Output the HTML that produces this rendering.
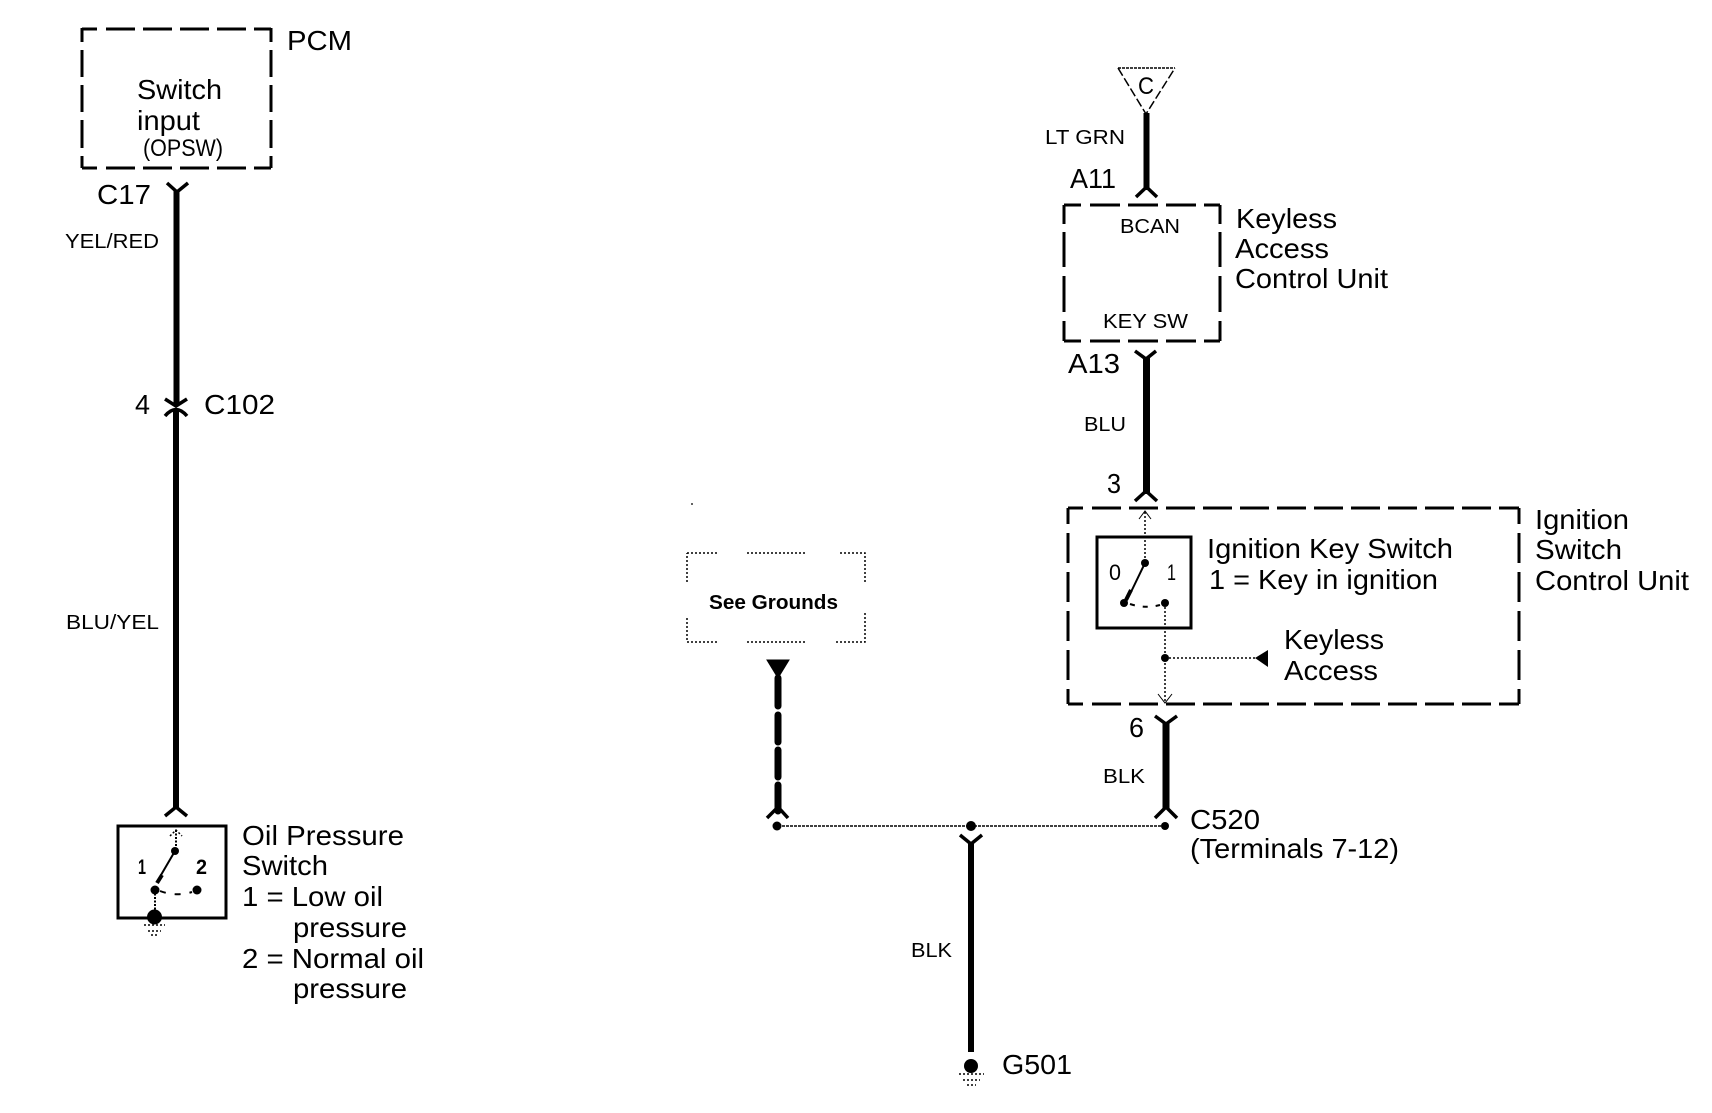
<!DOCTYPE html>
<html><head><meta charset="utf-8"><style>
html,body{margin:0;padding:0;background:#fff}
svg{display:block}
text{font-family:"Liberation Sans",sans-serif;fill:#000}
.l{font-size:28px}.m{font-size:24px}.s{font-size:20px}
.w{stroke:#000;stroke-width:6;fill:none}
.f{stroke:#000;stroke-width:3.500;fill:none}
.d{stroke:#000;stroke-width:3;fill:none}
.t{stroke:#000;stroke-width:2;stroke-dasharray:2 1.5;fill:none}
.q{stroke:#000;stroke-width:1.500;stroke-dasharray:2 2;fill:none}
</style></head><body>
<svg width="1712" height="1113" viewBox="0 0 1712 1113" xmlns="http://www.w3.org/2000/svg">
<rect width="1712" height="1113" fill="#fff"/>

<!-- PCM box -->
<path class="d" stroke-dasharray="15 9 29 8 29 8 29 8 29 8 17 0" d="M82 29H271"/>
<path class="d" stroke-dasharray="15 9 29 8 29 8 29 8 29 8 17 0" d="M82 168H271"/>
<path class="d" stroke-dasharray="14 8 27 8 27 8 28 8 14 0" d="M82 28V168"/>
<path class="d" stroke-dasharray="14 8 27 8 27 8 28 8 14 0" d="M271 28V168"/>
<text class="l" x="287" y="50" textLength="65" lengthAdjust="spacingAndGlyphs">PCM</text>
<text class="l" x="137" y="99" textLength="85" lengthAdjust="spacingAndGlyphs">Switch</text>
<text class="l" x="137" y="130" textLength="63" lengthAdjust="spacingAndGlyphs">input</text>
<text class="m" x="143" y="156" textLength="80" lengthAdjust="spacingAndGlyphs">(OPSW)</text>

<!-- Left wire -->
<path class="f" d="M167 183L177 192L188 183"/>
<path class="w" d="M176.500 190V405"/>
<text class="l" x="97" y="204" textLength="54" lengthAdjust="spacingAndGlyphs">C17</text>
<text class="s" x="65" y="248" textLength="94" lengthAdjust="spacingAndGlyphs">YEL/RED</text>
<text class="l" x="135" y="414" textLength="15" lengthAdjust="spacingAndGlyphs">4</text>
<text class="l" x="204" y="414" textLength="71" lengthAdjust="spacingAndGlyphs">C102</text>
<path class="f" d="M165 399L176 406L187 399"/>
<path class="f" d="M165 416Q176 403 187 416"/>
<path class="w" d="M176 409V808"/>
<text class="s" x="66" y="629" textLength="93" lengthAdjust="spacingAndGlyphs">BLU/YEL</text>
<path class="f" d="M165 816L176 807L187 816"/>

<!-- Oil pressure switch -->
<rect x="118" y="826" width="108" height="92" fill="none" stroke="#000" stroke-width="3"/>
<path class="t" d="M176 830V851"/>
<path class="q" d="M170 836L176 830L182 836"/>
<circle cx="175" cy="851" r="4"/>
<path d="M175 851L161 875" stroke="#000" stroke-width="2" fill="none"/>
<path d="M162 875L157 883" stroke="#000" stroke-width="4" fill="none"/>
<circle cx="155" cy="890" r="4.500"/>
<circle cx="197" cy="890" r="4.500"/>
<path stroke="#000" stroke-width="2" fill="none" stroke-dasharray="6 9" d="M160 891Q176 897 192 892"/>
<path class="t" d="M155 890V918"/>
<circle cx="154.500" cy="917" r="7.500"/>
<path class="q" d="M144 925H165"/><path class="q" d="M148 931H161"/><path class="q" d="M151 935H158"/>
<text x="138" y="874" style="font-size:21px;font-weight:bold" textLength="8" lengthAdjust="spacingAndGlyphs">1</text>
<text x="196" y="874" style="font-size:21px;font-weight:bold" textLength="11" lengthAdjust="spacingAndGlyphs">2</text>
<text class="l" x="242" y="845" textLength="162" lengthAdjust="spacingAndGlyphs">Oil Pressure</text>
<text class="l" x="242" y="875" textLength="86" lengthAdjust="spacingAndGlyphs">Switch</text>
<text class="l" x="242" y="906" textLength="141" lengthAdjust="spacingAndGlyphs">1 = Low oil</text>
<text class="l" x="293" y="937" textLength="114" lengthAdjust="spacingAndGlyphs">pressure</text>
<text class="l" x="242" y="968" textLength="182" lengthAdjust="spacingAndGlyphs">2 = Normal oil</text>
<text class="l" x="293" y="998" textLength="114" lengthAdjust="spacingAndGlyphs">pressure</text>

<!-- Triangle C -->
<path stroke="#000" stroke-width="1.500" fill="none" stroke-dasharray="3 1" d="M1118 68H1175"/>
<path stroke="#000" stroke-width="1.500" fill="none" stroke-dasharray="9 3" d="M1118 68L1146 114L1175 68"/>
<text x="1138" y="94" style="font-size:24px" textLength="16" lengthAdjust="spacingAndGlyphs">C</text>
<path class="w" d="M1146.500 113V190"/>
<text class="s" x="1045" y="144" textLength="80" lengthAdjust="spacingAndGlyphs">LT GRN</text>
<text class="l" x="1070" y="188" textLength="46" lengthAdjust="spacingAndGlyphs">A11</text>
<path class="f" d="M1136 197L1146.500 187L1157 197"/>

<!-- Keyless box -->
<path class="d" stroke-dasharray="17 9 30 8 30 8 30 8 17 0" d="M1064 205H1220"/>
<path class="d" stroke-dasharray="17 9 30 8 30 8 30 8 17 0" d="M1064 341H1220"/>
<path class="d" stroke-dasharray="19 8 35 9 36 9 20 0" d="M1064 205V341"/>
<path class="d" stroke-dasharray="19 8 35 9 36 9 20 0" d="M1220 205V341"/>
<text class="s" x="1120" y="233" textLength="60" lengthAdjust="spacingAndGlyphs">BCAN</text>
<text class="s" x="1103" y="328" textLength="85" lengthAdjust="spacingAndGlyphs">KEY SW</text>
<text class="l" x="1236" y="228" textLength="101" lengthAdjust="spacingAndGlyphs">Keyless</text>
<text class="l" x="1235" y="258" textLength="94" lengthAdjust="spacingAndGlyphs">Access</text>
<text class="l" x="1235" y="288" textLength="153" lengthAdjust="spacingAndGlyphs">Control Unit</text>

<text class="l" x="1068" y="373" textLength="52" lengthAdjust="spacingAndGlyphs">A13</text>
<path class="f" d="M1135 351L1146 359L1156 351"/>
<path class="w" d="M1146.500 357V494" style="stroke-width:7"/>
<text class="s" x="1084" y="431" textLength="42" lengthAdjust="spacingAndGlyphs">BLU</text>
<text class="l" x="1107" y="493" textLength="14" lengthAdjust="spacingAndGlyphs">3</text>
<path class="f" d="M1135 501L1146 491L1157 501"/>

<!-- Ignition box -->
<path class="d" stroke-dasharray="15 9 29 8 29 8 29 8 29 8 29 8 29 8 29 8 29 8 29 8 29 8 29 8 20 0" d="M1068 508H1519"/>
<path class="d" stroke-dasharray="15 9 29 8 29 8 29 8 29 8 29 8 29 8 29 8 29 8 29 8 29 8 29 8 20 0" d="M1068 704H1519"/>
<path class="d" stroke-dasharray="16 9 30 9 30 9 30 9 30 9 15 0" d="M1068 508V704"/>
<path class="d" stroke-dasharray="16 9 30 9 30 9 30 9 30 9 15 0" d="M1519 508V704"/>
<text class="l" x="1535" y="529" textLength="94" lengthAdjust="spacingAndGlyphs">Ignition</text>
<text class="l" x="1535" y="559" textLength="87" lengthAdjust="spacingAndGlyphs">Switch</text>
<text class="l" x="1535" y="590" textLength="154" lengthAdjust="spacingAndGlyphs">Control Unit</text>

<!-- Ignition switch -->
<rect x="1097" y="537" width="94" height="91" fill="none" stroke="#000" stroke-width="3"/>
<path class="q" d="M1145 512V563"/>
<path stroke="#000" stroke-width="1" fill="none" d="M1139 519L1145 511L1151 519"/>
<circle cx="1145" cy="563" r="4"/>
<path d="M1145 563L1131 592" stroke="#000" stroke-width="2" fill="none"/>
<path d="M1131 590L1126 600" stroke="#000" stroke-width="4" fill="none"/>
<circle cx="1124" cy="603" r="4"/>
<circle cx="1165" cy="603" r="4"/>
<path stroke="#000" stroke-width="2" fill="none" stroke-dasharray="5 8" d="M1130 604Q1145 609 1160 605"/>
<text x="1109" y="580" style="font-size:22px" textLength="12" lengthAdjust="spacingAndGlyphs">0</text>
<text x="1167" y="580" style="font-size:22px" textLength="9" lengthAdjust="spacingAndGlyphs">1</text>
<text class="l" x="1207" y="558" textLength="246" lengthAdjust="spacingAndGlyphs">Ignition Key Switch</text>
<text class="l" x="1209" y="589" textLength="229" lengthAdjust="spacingAndGlyphs">1 = Key in ignition</text>
<path class="q" d="M1165 603V701"/>
<circle cx="1165" cy="658" r="4"/>
<path class="q" d="M1165 658H1258"/>
<path d="M1268 650V667L1255 658Z"/>
<path stroke="#000" stroke-width="1" fill="none" d="M1158 694L1165 703L1172 694"/>
<text class="l" x="1284" y="649" textLength="100" lengthAdjust="spacingAndGlyphs">Keyless</text>
<text class="l" x="1284" y="680" textLength="94" lengthAdjust="spacingAndGlyphs">Access</text>

<!-- Lower right wire -->
<text class="l" x="1129" y="737" textLength="15" lengthAdjust="spacingAndGlyphs">6</text>
<path class="f" d="M1155 716L1166 724L1177 716"/>
<path class="w" d="M1166 722V808" style="stroke-width:7"/>
<text class="s" x="1103" y="783" textLength="42" lengthAdjust="spacingAndGlyphs">BLK</text>
<path class="f" d="M1155 818L1166 807L1177 818"/>
<circle cx="1165" cy="826" r="4"/>
<path stroke="#000" stroke-width="1.500" fill="none" stroke-dasharray="3 1" d="M778 826H1165"/>
<circle cx="971" cy="826" r="5"/>
<circle cx="777" cy="826" r="4.500"/>
<text class="l" x="1190" y="829" textLength="70" lengthAdjust="spacingAndGlyphs">C520</text>
<text class="l" x="1190" y="858" textLength="209" lengthAdjust="spacingAndGlyphs">(Terminals 7-12)</text>

<path class="f" d="M960 835L971 844L982 835"/>
<path class="w" d="M971 842V1052"/>
<text class="s" x="911" y="957" textLength="41" lengthAdjust="spacingAndGlyphs">BLK</text>
<circle cx="971" cy="1066" r="7"/>
<path class="q" d="M959 1074H984"/><path class="q" d="M963 1080H980"/><path class="q" d="M967 1085H976"/>
<text class="l" x="1002" y="1074" textLength="70" lengthAdjust="spacingAndGlyphs">G501</text>

<!-- See Grounds -->
<circle cx="692" cy="504" r="1" fill="#333"/>
<path class="q" d="M687 553H717M747 553H805M840 553H865V582M865 613V642H835M805 642H747M717 642H687V617M687 582V553"/>
<text x="709" y="609" style="font-size:20px;font-weight:bold" textLength="129" lengthAdjust="spacingAndGlyphs">See Grounds</text>
<path d="M767 660H789L778 678Z" stroke="#000" stroke-width="1"/>
<path stroke="#000" stroke-width="7" fill="none" stroke-linecap="round" d="M778 678V706M778 715V742M778 750V777M778 785V811"/>
<path class="f" d="M767 818L778 807L788 818"/>
</svg>
</body></html>
